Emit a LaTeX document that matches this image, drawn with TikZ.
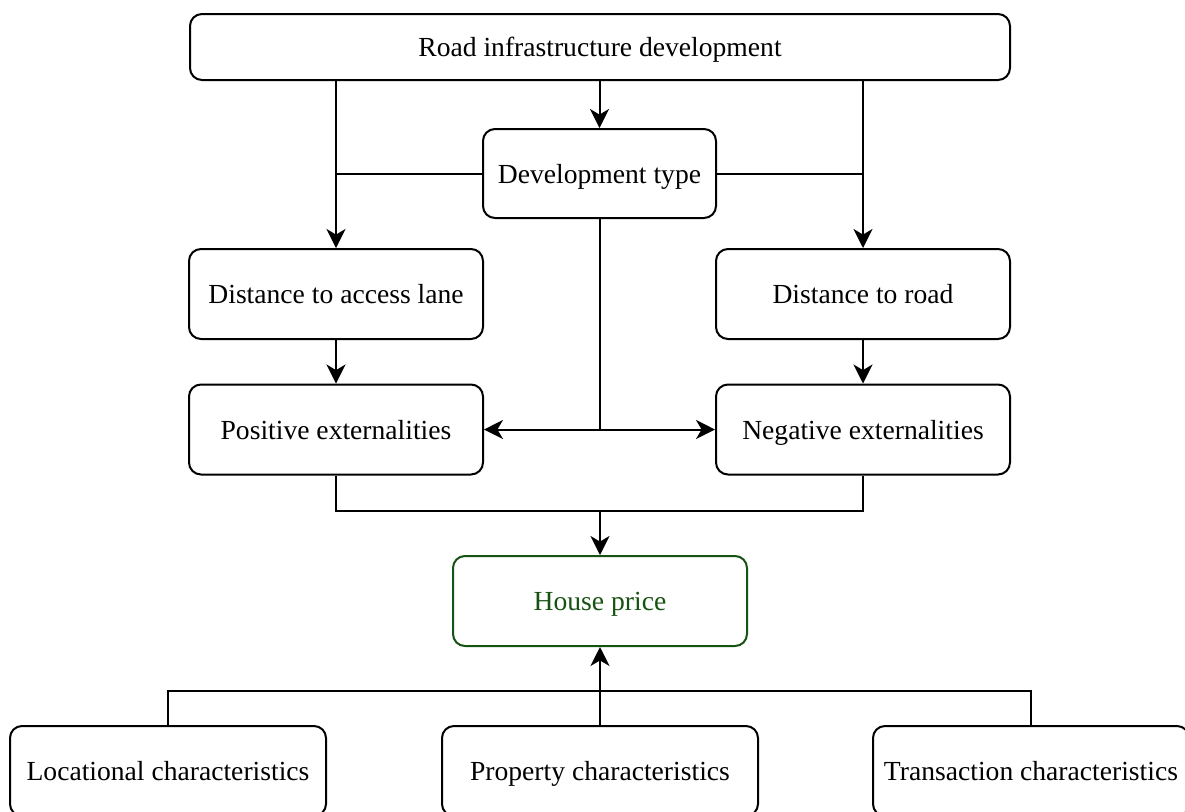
\documentclass[tikz,border=0pt]{standalone}
\usepackage{fontspec}
\setmainfont{Liberation Serif}
\usepackage{xcolor}
\usepackage{tikz}
\usetikzlibrary{arrows.meta}
\usetikzlibrary{positioning}
\definecolor{hgreen}{RGB}{22,82,18}
\tikzstyle{box}=[draw,rectangle,rounded corners=6pt,align=center,line width=1pt,minimum width=147pt,minimum height=45pt,inner sep=2pt,text height=11.2pt,text depth=1.6pt]
\tikzstyle{flow}=[draw,line width=1pt,-{Stealth[length=9.5pt,width=9.5pt,inset=2.8pt]}]
\tikzstyle{link}=[draw,line width=1pt]

\begin{document}
\begin{tikzpicture}[x=0.5pt,y=-0.5pt,font=\fontsize{13.8}{16}\selectfont]
	\clip (0,0) rectangle (1185,811);

	\node[box, minimum width=410pt, minimum height=33pt] (ROAD) at (600,47) {Road infrastructure development};
	\node[box, minimum width=116.5pt, minimum height=44.5pt] (dev) at (599.5,173.5) {Development type};

	\node[box] (acc) at (336,294) {Distance to access lane};
	\node[box] (road) at (863,294) {Distance to road};
	\node[box] (pos) at (336,429.5) {Positive externalities};
	\node[box] (neg) at (863,429.5) {Negative externalities};

	\node[box, draw=hgreen, text=hgreen] (price) at (600,601) {House price};

	\node[box, minimum width=158pt] (loc) at (168,771) {Locational characteristics};
	\node[box, minimum width=158pt] (prop) at (600,771) {Property characteristics};
	\node[box, minimum width=158pt] (trans) at (1031,771) {Transaction characteristics};

	% top part
	\path[flow] (ROAD.south -| dev.north) -- (dev.north);
	\path[flow] (ROAD.south -| acc.north) -- (acc.north);
	\path[flow] (ROAD.south -| road.north) -- (road.north);
	\path[link] (dev.west) -- (dev.west -| acc.north);
	\path[link] (dev.east) -- (dev.east -| road.north);

	\coordinate (mid) at (dev.south |- pos.east);
	\path[link] (dev.south) -- (mid);
	\path[flow] (mid) -- (pos.east);
	\path[flow] (mid) -- (neg.west);

	\path[flow] (acc) -- (pos);
	\path[flow] (road) -- (neg);

	% to house price
	\coordinate (join) at (600,511);
	\path[link] (pos.south) |- (join) -| (neg.south);
	\path[flow] (join) -- (price.north);

	% controls
	\coordinate (base) at (600,691);
	\path[flow] (prop.north) -- (price.south);
	\path[link] (loc.north) |- (base) -| (trans.north);
\end{tikzpicture}
\end{document}
